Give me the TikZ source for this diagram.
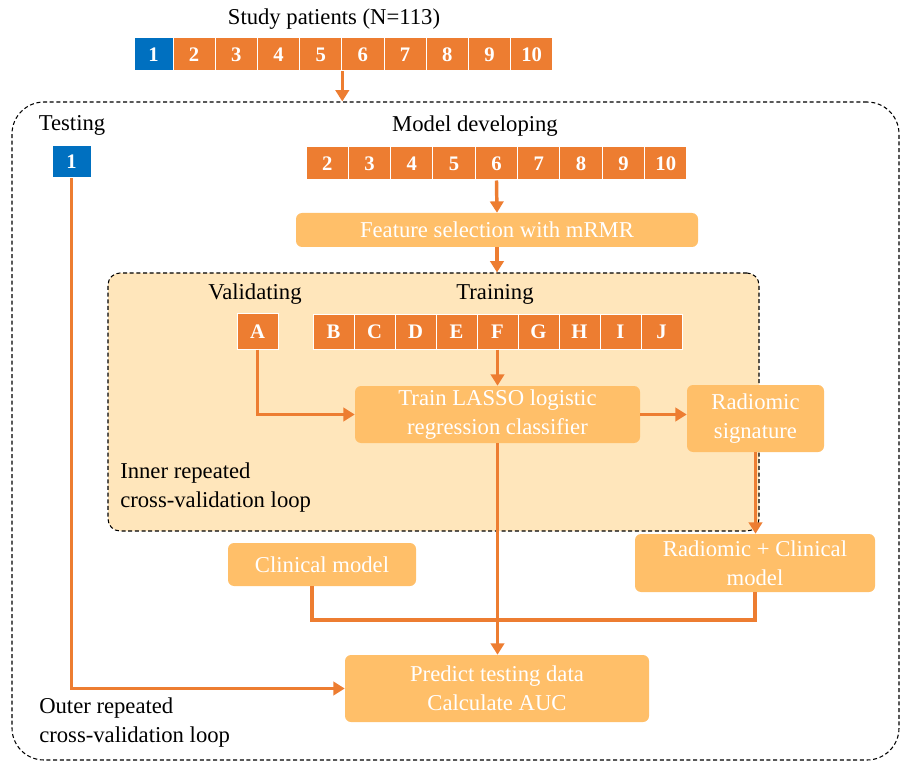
\documentclass[tikz,border=0pt]{standalone}
\usepackage{fontspec}
\setmainfont{Liberation Serif}
\usetikzlibrary{arrows.meta,calc}
\definecolor{orng}{HTML}{ED7D31}
\definecolor{blu}{HTML}{0070C0}
\definecolor{lbox}{HTML}{FFBF69}
\definecolor{peach}{HTML}{FFE6BB}
\begin{document}
\begin{tikzpicture}[x=0.75pt,y=-0.75pt,
  cell/.style={draw=white, line width=0.75pt, fill=orng, text=white,
    font=\fontsize{15.5}{18}\selectfont\bfseries, inner sep=0pt},
  cellblue/.style={cell, fill=blu},
  rbox/.style={fill=lbox, rounded corners=4.5pt, text=white,
    font=\fontsize{17}{21.5}\selectfont, align=center, inner sep=0pt},
  lbl/.style={font=\fontsize{17}{21.5}\selectfont, inner sep=0pt},
  loopbox/.style={draw=black, line width=0.8pt, dash pattern=on 3pt off 2pt, inner sep=0pt},
  conn/.style={draw=orng, line width=2.6pt},
  arr/.style={conn, -{Triangle[length=8.5pt,width=10pt]}}]
\useasboundingbox (0,0) rectangle (904,763);
% loop frames
\node[loopbox, rounded corners=24pt, minimum width=665.25pt, minimum height=493.5pt] (outer) at (455.5,431) {};
\node[loopbox, fill=peach, rounded corners=9pt, minimum width=488.25pt, minimum height=193.5pt] (inner) at (433.5,402) {};
% title and top strip
\node[lbl] (title) at (334,19) {Study patients (N=113)};
\node[cellblue, minimum width=29.25pt, minimum height=24.75pt] (s1) at (153.5,54.5) {1};
\foreach \i in {2,...,10}
  \node[cell, minimum width=31.65pt, minimum height=24.75pt] (s\i) at ({173+42.2*(\i-2)+21.1},54.5) {\i};
% testing
\node[lbl] (testlbl) at (72,125) {Testing};
\node[cellblue, minimum width=29.25pt, minimum height=24pt] (test) at (71.5,162) {1};
% model developing
\node[lbl] (mdlbl) at (475,126) {Model developing};
\foreach \i in {2,...,10}
  \node[cell, minimum width=31.75pt, minimum height=24.75pt] (m\i) at ({306+42.33*(\i-2)+21.17},163.5) {\i};
\node[rbox, minimum width=301.5pt, minimum height=25.5pt] (feat) at (497,230) {Feature selection with mRMR};
% inner loop
\node[lbl] (vallbl) at (255,294) {Validating};
\node[lbl] (trlbl) at (495,294) {Training};
\node[cell, minimum width=30.75pt, minimum height=26.25pt] (tA) at (257.5,331.5) {A};
\foreach \l [count=\k] in {B,C,D,E,F,G,H,I,J}
  \node[cell, minimum width=30.75pt, minimum height=25.5pt] (t\l) at ({313+41*(\k-1)+20.5},332) {\l};
\node[rbox, minimum width=213.75pt, minimum height=42.75pt] (lasso) at (497.5,414.5) {Train LASSO logistic\\regression classifier};
\node[rbox, minimum width=102.75pt, minimum height=50.25pt] (rad) at (755.5,418.5) {Radiomic\\signature};
\node[lbl, anchor=north west, align=left] (innerlbl) at (120,463) {Inner repeated\\cross-validation loop};
% models
\node[rbox, minimum width=141pt, minimum height=32.25pt] (clin) at (322,564.5) {Clinical model};
\node[rbox, minimum width=180pt, minimum height=43.5pt] (rc) at (755,563) {Radiomic + Clinical\\model};
\node[rbox, minimum width=228pt, minimum height=50.25pt] (pred) at (497,688.5) {Predict testing data\\Calculate AUC};
\node[lbl, anchor=north west, align=left] (outerlbl) at (39,698) {Outer repeated\\cross-validation loop};
% connectors
\draw[arr] (s5.south east) -- (s5.south east |- outer.north);
\draw[arr] (m6.south) -- (feat.north);
\draw[arr] (feat.south) -- (feat.south |- inner.north);
\draw[arr] (tF.south) -- (tF.south |- lasso.north);
\draw[arr] (tA.south) |- (lasso.west);
\draw[arr] (lasso.east) -- (lasso.east -| rad.west);
\draw[arr] (rad.south) -- (rad.south |- rc.north);
\draw[arr] (lasso.south) -- (lasso.south |- pred.north);
\coordinate (j1) at (312,620);
\coordinate (j2) at (755,620);
\draw[conn] (clin.south -| j1) -- (j1) -- (j2) -- (rc.south -| j2);
\draw[arr] (test.south) |- (pred.west);
\end{tikzpicture}
\end{document}
